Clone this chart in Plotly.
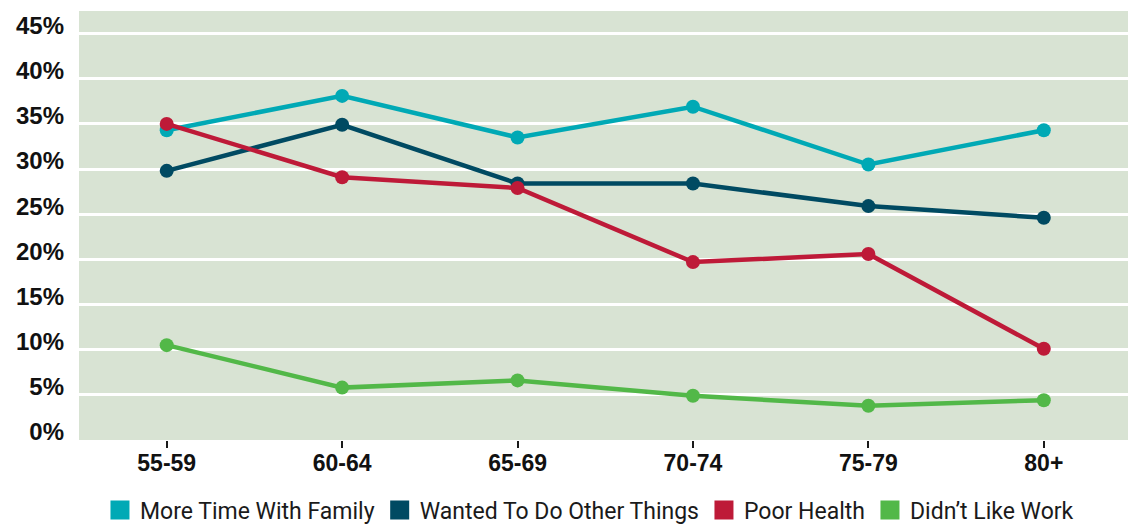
import plotly.graph_objects as go

categories = ["55-59", "60-64", "65-69", "70-74", "75-79", "80+"]
family = [34.3, 38.1, 33.5, 36.9, 30.5, 34.3]
other_things = [29.8, 34.9, 28.4, 28.4, 25.9, 24.6]
poor_health = [35.0, 29.1, 27.9, 19.7, 20.6, 10.1]
disliked_work = [10.5, 5.8, 6.6, 4.9, 3.8, 4.4]
y_ticks = [0, 5, 10, 15, 20, 25, 30, 35, 40, 45]
y_tick_labels = [f"{v}%" for v in y_ticks]

series = [
    ("More Time With Family", family, "#00A9B5"),
    ("Wanted To Do Other Things", other_things, "#004A62"),
    ("Poor Health", poor_health, "#BE1A38"),
    ("Didn\u2019t Like Work", disliked_work, "#52B848"),
]

fig = go.Figure()
x_idx = list(range(len(categories)))
for name, vals, col in series:
    fig.add_trace(go.Scatter(
        x=x_idx, y=vals, mode="lines+markers", name=name,
        line=dict(color=col, width=4.5),
        marker=dict(color=col, size=14),
        showlegend=False,
    ))
for name, vals, col in series:
    fig.add_trace(go.Scatter(
        x=[None], y=[None], mode="markers", name=name,
        marker=dict(color=col, size=16, symbol="square", line=dict(color=col, width=3)),
        showlegend=True,
    ))

fig.update_layout(
    width=1128, height=526,
    margin=dict(l=79, r=0, t=11, b=86, autoexpand=False),
    paper_bgcolor="white",
    plot_bgcolor="#D8E3D3",
    font=dict(family="Liberation Sans, Arial, sans-serif", color="#1a1a1a"),
    legend=dict(
        orientation="h", x=0.02, xanchor="left", y=-0.163, yanchor="middle",
        font=dict(size=23, family="Roboto, Liberation Sans, sans-serif", color="#1a1a1a"),
        itemclick=False, bgcolor="rgba(0,0,0,0)",
    ),
)
fig.update_xaxes(
    range=[-0.5, 5.48], tickvals=x_idx, ticktext=categories,
    showgrid=False, zeroline=False, showline=False, automargin=False,
    ticks="outside", ticklen=7, tickwidth=2, tickcolor="#1a1a1a",
    ticklabelstandoff=-5,
    tickfont=dict(size=23, family="Liberation Sans, Arial, sans-serif", weight="bold", color="#111"),
)
fig.update_yaxes(
    range=[0, 47.5], tickvals=y_ticks, ticktext=y_tick_labels,
    showgrid=True, gridcolor="white", gridwidth=2.5, automargin=False,
    zeroline=False, showline=False, ticks="",
    ticklabelshift=-8, ticklabelstandoff=14,
    tickfont=dict(size=24, family="Liberation Sans, Arial, sans-serif", weight="bold", color="#111"),
)

fig.write_html(
    "out.html",
    config={"displayModeBar": False},
    post_script="document.body.style.margin='0';document.body.style.overflow='hidden';",
)
